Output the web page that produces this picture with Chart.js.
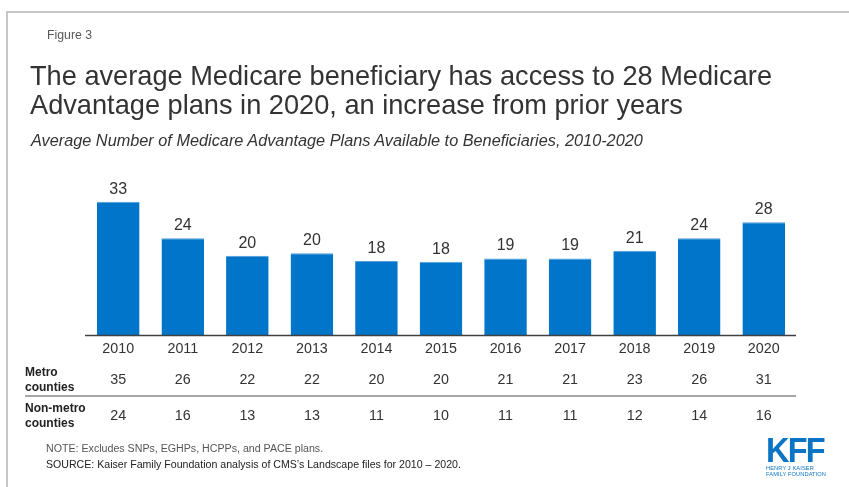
<!DOCTYPE html>
<html>
<head>
<meta charset="utf-8">
<script src="https://cdn.jsdelivr.net/npm/chart.js@4.4.1/dist/chart.umd.min.js"></script>
<style>
  html, body { margin:0; padding:0; background:#fff; }
  body { width:849px; height:487px; position:relative; overflow:hidden; font-family:"Liberation Sans", Arial, sans-serif; }
  #frame { position:absolute; left:6px; top:11px; width:900px; height:600px; border-left:2px solid #c6c6c6; border-top:2px solid #c6c6c6; }
  canvas { position:absolute; left:0; top:0; }
  .t { position:absolute; white-space:nowrap; }
  #fig { left:47px; top:28px; font-size:12.3px; color:#595959; }
  #title { left:30px; top:61px; font-size:27.2px; line-height:29px; color:#333; }
  #sub { left:31px; top:131px; font-size:16.3px; font-style:italic; color:#333; }
  #note { left:46px; top:442px; font-size:10.65px; color:#555; }
  #source { left:46px; top:458px; font-size:10.6px; color:#222; }
  #logo { left:766px; top:435px; color:#0b74c4; }
  #logo .k { font-family:"Liberation Sans",sans-serif; font-weight:bold; font-size:35px; line-height:30px; letter-spacing:-2px; transform:scaleX(0.93); transform-origin:left; }
  #logo .s { font-size:6.2px; line-height:6px; letter-spacing:0.1px; transform:scaleX(0.92); transform-origin:left; }
</style>
</head>
<body>
<div id="frame"></div>
<canvas id="c" width="849" height="487"></canvas>
<div class="t" id="fig">Figure 3</div>
<div class="t" id="title">The average Medicare beneficiary has access to 28 Medicare<br>Advantage plans in 2020, an increase from prior years</div>
<div class="t" id="sub">Average Number of Medicare Advantage Plans Available to Beneficiaries, 2010-2020</div>
<div class="t" id="note">NOTE: Excludes SNPs, EGHPs, HCPPs, and PACE plans.</div>
<div class="t" id="source">SOURCE: Kaiser Family Foundation analysis of CMS’s Landscape files for 2010 – 2020.</div>
<div class="t" id="logo"><div class="k">KFF</div><div class="s">HENRY J KAISER<br>FAMILY FOUNDATION</div></div>
<script>
const years = ["2010","2011","2012","2013","2014","2015","2016","2017","2018","2019","2020"];
const avgPlans = [33.1, 24.0, 19.7, 20.3, 18.4, 18.2, 19.0, 19.0, 20.9, 24.0, 28.0];
const metroCounties = [35, 26, 22, 22, 20, 20, 21, 21, 23, 26, 31];
const nonMetroCounties = [24, 16, 13, 13, 11, 10, 11, 11, 12, 14, 16];
const rowLabels = [["Metro","counties"],["Non-metro","counties"]];

const tablePlugin = {
  id: 'tablePlugin',
  afterDatasetsDraw(chart) {
    const ctx = chart.ctx;
    const xs = chart.scales.x;
    const area = chart.chartArea;
    ctx.save();
    const meta = chart.getDatasetMeta(0);
    ctx.fillStyle = '#333';
    ctx.font = '16px "Liberation Sans", Arial, sans-serif';
    ctx.textAlign = 'center';
    ctx.textBaseline = 'middle';
    meta.data.forEach((bar, i) => {
      ctx.fillText(String(Math.round(avgPlans[i])), bar.x, bar.y - 12.5);
    });
    ctx.strokeStyle = '#404040';
    ctx.lineWidth = 1.5;
    ctx.beginPath();
    ctx.moveTo(area.left - 1, area.bottom + 0.5);
    ctx.lineTo(area.right, area.bottom + 0.5);
    ctx.stroke();
    ctx.font = '14.3px "Liberation Sans", Arial, sans-serif';
    ctx.fillStyle = '#333';
    years.forEach((y, i) => {
      const x = xs.getPixelForValue(i);
      ctx.fillText(y, x, area.bottom + 14);
      ctx.fillText(String(metroCounties[i]), x, area.bottom + 45);
      ctx.fillText(String(nonMetroCounties[i]), x, area.bottom + 81);
    });
    ctx.font = 'bold 12px "Liberation Sans", Arial, sans-serif';
    ctx.textAlign = 'left';
    ctx.fillStyle = '#222';
    const rowY = [area.bottom + 38, area.bottom + 74];
    rowLabels.forEach((lines, r) => {
      ctx.fillText(lines[0], 25, rowY[r]);
      ctx.fillText(lines[1], 25, rowY[r] + 15);
    });
    ctx.strokeStyle = '#a6a6a6';
    ctx.lineWidth = 2;
    ctx.beginPath();
    ctx.moveTo(25, area.bottom + 61);
    ctx.lineTo(area.right, area.bottom + 61);
    ctx.stroke();
    ctx.restore();
  }
};

new Chart(document.getElementById('c'), {
  type: 'bar',
  data: {
    labels: years,
    datasets: [{
      data: avgPlans,
      backgroundColor: '#0075c9',
      borderColor: '#4d9fdc',
      borderWidth: {top:1, left:0, right:0, bottom:0},
      categoryPercentage: 0.66,
      barPercentage: 1.0
    }]
  },
  options: {
    responsive: false,
    animation: false,
    layout: { padding: { left: 86, right: 53, top: 190, bottom: 152 } },
    plugins: { legend: { display: false }, tooltip: { enabled: false }, title: { display: false } },
    scales: {
      x: { display: false },
      y: { display: false, min: 0, max: 36 }
    }
  },
  plugins: [tablePlugin]
});
</script>
</body>
</html>
